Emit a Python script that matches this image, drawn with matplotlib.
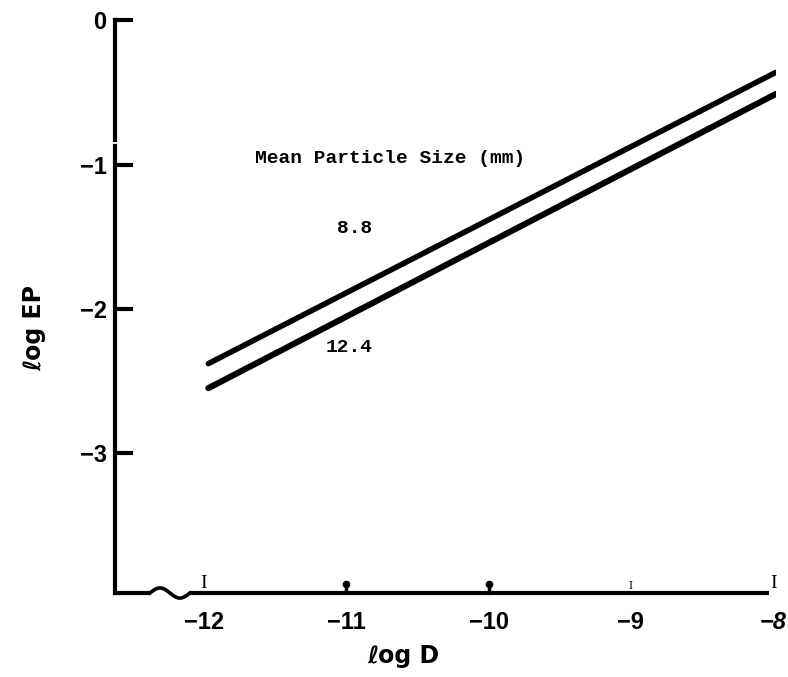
import numpy as np
import matplotlib
matplotlib.use("Agg")
import matplotlib.pyplot as plt

# log D (x) vs log EP (y), two particle sizes
SIZES = ["8.8", "12.4"]
LOG_D = [-11.97, -7.98]
LOG_EP_88 = [-2.38, -0.36]
LOG_EP_124 = [-2.55, -0.51]

YTICKS = [0, -1, -2, -3]
YTICKLABELS = ["0", "\u22121", "\u22122", "\u22123"]
XTICKS = [-12, -11, -10, -9, -8]
XTICKLABELS = ["\u221212", "\u221211", "\u221210", "\u22129", "\u22128"]
XTICK_MARK = ["I", "dot", "dot", "i", "I"]

XMIN, XMAX = -12.626, -7.98
YMIN, YMAX = -3.97, 0.03

W, H = 788, 677
fig = plt.figure(figsize=(W / 100, H / 100), dpi=100)
ax = fig.add_axes([115 / W, (H - 593) / H, (776 - 115) / W, (593 - 16) / H])
ax.set_xlim(XMIN, XMAX)
ax.set_ylim(YMIN, YMAX)
for s in ax.spines.values():
    s.set_visible(False)

lw_axis = 3.0
# left axis, with a small break just above -1
ax.plot([XMIN, XMIN], [YMIN, -0.87], color="black", lw=lw_axis, clip_on=False)
ax.plot([XMIN, XMIN], [-0.83, 0], color="black", lw=lw_axis, clip_on=False)

# bottom axis, with the wavy break before -12
xs = np.linspace(-12.38, -12.1, 60)
wig = YMIN + 0.035 * np.sin(2 * np.pi * (xs - xs[0]) / (xs[-1] - xs[0]))
ax.plot([XMIN, -12.38], [YMIN, YMIN], color="black", lw=lw_axis,
        clip_on=False, solid_capstyle="butt")
ax.plot(xs, wig, color="black", lw=2.6, clip_on=False)
ax.plot([-12.1, -8.03], [YMIN, YMIN], color="black", lw=lw_axis,
        clip_on=False, solid_capstyle="butt")

# y ticks (pointing inward)
ax.set_yticks(YTICKS)
ax.set_yticklabels(YTICKLABELS, fontsize=17, fontweight="bold",
                   family="Liberation Sans")
ax.tick_params(axis="y", direction="in", length=13, width=3, pad=6)

# x ticks: custom small marks like in the drawing
ax.set_xticks(XTICKS)
ax.set_xticklabels(XTICKLABELS, fontsize=17, fontweight="bold",
                   family="Liberation Sans")
ax.get_xticklabels()[-1].set_style("italic")
ax.tick_params(axis="x", length=0, pad=13)
for x, m in zip(XTICKS, XTICK_MARK):
    if m == "dot":
        ax.plot([x, x], [YMIN, YMIN + 0.05], color="black", lw=2.5,
                clip_on=False, solid_capstyle="round")
        ax.plot(x, YMIN + 0.06, "o", color="black", ms=4.5, clip_on=False)
    else:
        ax.text(x, YMIN + 0.005, "I", family="Liberation Serif",
                fontsize=14 if m == "I" else 9, ha="center", va="bottom",
                color="black", clip_on=False)

# data lines
ax.plot(LOG_D, LOG_EP_88, color="black", lw=4.0, solid_capstyle="round")
ax.plot(LOG_D, LOG_EP_124, color="black", lw=4.4, solid_capstyle="round")

mono = dict(family="Liberation Mono", fontweight="bold", color="black")
ax.text(-11.64, -0.957, "Mean Particle Size (mm)", fontsize=14,
        ha="left", va="center", **mono)
ax.text(-10.94, -1.44, SIZES[0], fontsize=14, ha="center", va="center", **mono)
ax.text(-10.98, -2.27, SIZES[1], fontsize=14, ha="center", va="center", **mono)

ax.set_ylabel("\u2113og EP", fontsize=17, fontweight="bold",
              family="DejaVu Sans")
ax.yaxis.set_label_coords((46 - 115) / (776 - 115), (593 - 328) / (593 - 16))
ax.set_xlabel("\u2113og D", fontsize=17, fontweight="bold",
              family="DejaVu Sans")
ax.xaxis.set_label_coords((403 - 115) / (776 - 115), -(644 - 593) / (593 - 16))

fig.savefig("out.png", dpi=100)
